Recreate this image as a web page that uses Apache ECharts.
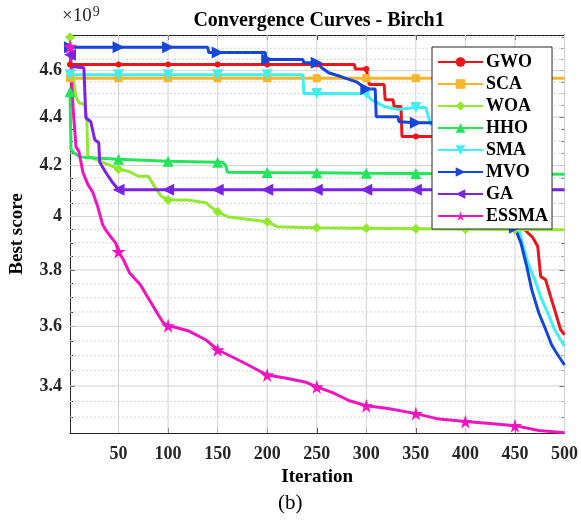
<!DOCTYPE html>
<html><head><meta charset="utf-8">
<script src="https://cdn.jsdelivr.net/npm/echarts@6/dist/echarts.min.js"></script>
<style>html,body{margin:0;padding:0;background:#fff}#c{width:581px;height:521px}</style>
</head><body><div id="c"></div>
<script>
// ---- data (values in units of 1e9) ----
const seriesNames = ['GWO','SCA','WOA','HHO','SMA','MVO','GA','ESSMA'];
const xTicks = [50,100,150,200,250,300,350,400,450,500];
const yTicks = [3.4,3.6,3.8,4.0,4.2,4.4,4.6];
const yMinorTicks = [3.3,3.35,3.45,3.5,3.55,3.65,3.7,3.75,3.85,3.9,3.95,4.05,4.1,4.15,4.25,4.3,4.35,4.45,4.5,4.55,4.65,4.7,4.75];
const xLimits = [1, 500];
const yLimits = [3.25, 4.76];
const markerIters = [1,50,100,150,200,250,300,350,400,450];

const gwoData = [[1,4.627],[50,4.627],[100,4.627],[150,4.627],[200,4.627],[250,4.627],[288,4.627],[289,4.607],[300,4.607],[302,4.607],[303,4.539],[318,4.539],[319,4.474],[327,4.474],[328,4.445],[335,4.445],[336,4.319],[350,4.319],[400,4.319],[425,4.319],[440,4.15],[450,4.04],[460,3.949],[468,3.92],[473,3.886],[476,3.776],[481,3.764],[486,3.704],[491,3.647],[496,3.589],[500,3.571]];
const scaData = [[1,4.567],[50,4.567],[100,4.567],[150,4.567],[200,4.567],[250,4.567],[300,4.567],[350,4.567],[400,4.567],[450,4.567],[500,4.567]];
const woaData = [[1,4.75],[2,4.636],[7,4.486],[10,4.461],[16,4.452],[18,4.388],[19,4.237],[27,4.225],[34,4.213],[44,4.197],[50,4.185],[60,4.177],[70,4.157],[80,4.157],[86,4.118],[93,4.079],[100,4.064],[119,4.064],[138,4.053],[143,4.037],[150,4.018],[160,3.999],[200,3.980],[210,3.961],[250,3.957],[300,3.955],[350,3.953],[400,3.951],[450,3.950],[500,3.949]];
const hhoData = [[1,4.508],[2,4.264],[5,4.252],[10,4.237],[16,4.233],[50,4.225],[100,4.217],[150,4.213],[155,4.213],[158,4.201],[160,4.173],[200,4.172],[250,4.171],[300,4.169],[350,4.168],[400,4.167],[450,4.166],[500,4.165]];
const smaData = [[1,4.582],[50,4.582],[100,4.582],[150,4.582],[200,4.582],[236,4.582],[237,4.500],[250,4.500],[300,4.500],[305,4.474],[318,4.445],[332,4.432],[350,4.440],[360,4.440],[365,4.368],[400,4.368],[420,4.368],[435,4.25],[445,4.08],[450,4.0],[454,3.949],[463,3.826],[470,3.764],[476,3.703],[483,3.647],[490,3.589],[496,3.554],[500,3.532]];
const mvoData = [[1,4.704],[50,4.704],[100,4.704],[140,4.704],[141,4.681],[150,4.681],[198,4.681],[199,4.649],[200,4.649],[236,4.649],[237,4.635],[250,4.635],[255,4.613],[262,4.591],[275,4.573],[290,4.551],[300,4.520],[309,4.520],[310,4.401],[332,4.401],[333,4.380],[350,4.376],[400,4.376],[420,4.376],[435,4.2],[445,4.03],[450,3.957],[456,3.900],[462,3.811],[467,3.728],[474,3.647],[481,3.589],[487,3.537],[491,3.514],[500,3.469]];
const gaData = [[1,4.671],[2,4.618],[15,4.613],[17,4.397],[22,4.380],[26,4.305],[30,4.293],[31,4.213],[37,4.173],[44,4.132],[50,4.104],[100,4.104],[150,4.104],[200,4.104],[250,4.104],[300,4.104],[350,4.104],[400,4.104],[450,4.104],[500,4.104]];
const essmaData = [[1,4.708],[2,4.618],[4,4.444],[7,4.277],[10,4.257],[14,4.173],[19,4.125],[24,4.094],[29,4.037],[34,3.968],[37,3.949],[42,3.923],[47,3.900],[50,3.867],[55,3.837],[61,3.790],[72,3.746],[81,3.693],[90,3.640],[95,3.613],[100,3.602],[108,3.596],[120,3.585],[138,3.554],[150,3.520],[175,3.479],[200,3.436],[218,3.426],[238,3.413],[250,3.397],[266,3.378],[283,3.352],[300,3.336],[322,3.327],[350,3.311],[371,3.295],[400,3.286],[425,3.280],[450,3.273],[474,3.258],[500,3.251]];

const allData = [gwoData, scaData, woaData, hhoData, smaData, mvoData, gaData, essmaData];
const colors = ['#E8161B','#F7B52C','#93E830','#22E65A','#40F0F0','#1446DC','#7B22E6','#F014C0'];
const STAR = 'path://M50,0 L61,35 L98,35 L68,57 L79,91 L50,70 L21,91 L32,57 L2,35 L39,35 Z';
const symbols = ['circle','rect','diamond','triangle','triangle','triangle','triangle',STAR];
const symRot = [0,0,0,0,180,-90,90,0];
const symSize = [6,8,10,11,11,12,12,14];

const L = v => Math.log10(v);
const FONT = "'Liberation Serif','Times New Roman',serif";
const yMin = L(yLimits[0]), yMax = L(yLimits[1]);
const fmtY = v => String(parseFloat(Math.pow(10, v).toFixed(2)));

// grid lines: [kind, value]; kind 0 = y minor, 1 = y major, 2 = x major
const gridLineData = [].concat(
  yMinorTicks.map(v => [0, L(v)]),
  yTicks.map(v => [1, L(v)]),
  xTicks.map(v => [2, v])
);
const gridSeries = {
  type: 'custom', name: '_grid', coordinateSystem: 'cartesian2d',
  xAxisIndex: 0, yAxisIndex: 0, z: 1, silent: true, animation: false, clip: false,
  encode: { x: -1, y: -1 },
  data: gridLineData,
  renderItem: function (params, api) {
    const kind = api.value(0), val = api.value(1);
    const cs = params.coordSys;
    if (kind === 2) {
      const px = api.coord([val, yMin])[0];
      return { type: 'line', shape: { x1: px, y1: cs.y, x2: px, y2: cs.y + cs.height },
        style: { stroke: '#D2D2D2', lineWidth: 1 } };
    }
    const py = api.coord([xLimits[0], val])[1];
    return { type: 'line', shape: { x1: cs.x, y1: py, x2: cs.x + cs.width, y2: py },
      style: kind === 1 ? { stroke: '#D2D2D2', lineWidth: 1 }
                        : { stroke: '#D6D6D6', lineWidth: 1, lineDash: [2, 2] } };
  }
};

const series = [gridSeries].concat(seriesNames.map((name, i) => ({
  name, type: 'line', xAxisIndex: 0, yAxisIndex: 0, z: 2,
  data: allData[i].map(([it, v]) => {
    const o = { value: [it, L(v)] };
    if (!markerIters.includes(it)) o.symbol = 'none';
    return o;
  }),
  symbol: symbols[i], symbolSize: symSize[i], symbolRotate: symRot[i],
  showAllSymbol: true, animation: false,
  lineStyle: { color: colors[i], width: 3 },
  itemStyle: { color: colors[i], borderWidth: 0 },
  emphasis: { disabled: true }
})));

const axisLineStyle = { show: true, lineStyle: { color: '#262626', width: 1 } };
const yBase = { type: 'value', min: yMin, max: yMax, gridIndex: 0 };

const chart = echarts.init(document.getElementById('c'), null, { renderer: 'canvas' });
chart.setOption({
  animation: false,
  backgroundColor: '#fff',
  title: {
    text: 'Convergence Curves - Birch1', left: 314, top: 6, textAlign: 'center',
    textStyle: { fontFamily: FONT, fontWeight: 'bold', fontSize: 20, color: '#000' }
  },
  grid: { left: 61, right: 14, top: 35, bottom: 88, containLabel: false },
  legend: {
    orient: 'vertical', left: 432, top: 47,
    backgroundColor: '#fff', borderColor: '#262626', borderWidth: 1,
    padding: [6, 4, 4, 5], itemGap: 4, itemWidth: 45, itemHeight: 12,
    textStyle: { fontFamily: FONT, fontWeight: 'bold', fontSize: 18, color: '#000', padding: [0,0,0,-2] },
    data: seriesNames
  },
  xAxis: [
    { type: 'value', min: xLimits[0], max: xLimits[1], position: 'bottom',
      name: 'Iteration', nameLocation: 'middle', nameGap: 34,
      nameTextStyle: { fontFamily: FONT, fontWeight: 'bold', fontSize: 19, color: '#000' },
      axisLine: axisLineStyle,
      axisTick: { show: true, inside: true, length: 5, customValues: xTicks, lineStyle: { color: '#262626' } },
      axisLabel: { customValues: xTicks, margin: 12, fontFamily: FONT, fontWeight: 'bold', fontSize: 18, color: '#262626' },
      splitLine: { show: false }
    },
    { type: 'value', min: xLimits[0], max: xLimits[1], position: 'top',
      axisLine: axisLineStyle,
      axisTick: { show: true, inside: true, length: 5, customValues: xTicks, lineStyle: { color: '#262626' } },
      axisLabel: { show: false }, splitLine: { show: false }
    }
  ],
  yAxis: [
    Object.assign({}, yBase, { position: 'left',
      name: 'Best score', nameLocation: 'middle', nameGap: 43,
      nameTextStyle: { fontFamily: FONT, fontWeight: 'bold', fontSize: 19, color: '#000' },
      axisLine: axisLineStyle,
      axisTick: { show: true, inside: true, length: 5, customValues: yTicks.map(L), lineStyle: { color: '#262626' } },
      axisLabel: { customValues: yTicks.map(L), formatter: fmtY, margin: 8, fontFamily: FONT, fontWeight: 'bold', fontSize: 18, color: '#262626' },
      splitLine: { show: false }
    }),
    Object.assign({}, yBase, { position: 'left',
      axisLine: { show: false },
      axisTick: { show: true, inside: true, length: 3, customValues: yMinorTicks.map(L), lineStyle: { color: '#262626' } },
      axisLabel: { show: false }, splitLine: { show: false }
    }),
    Object.assign({}, yBase, { position: 'right',
      axisLine: axisLineStyle,
      axisTick: { show: true, inside: true, length: 5, customValues: yTicks.map(L), lineStyle: { color: '#262626' } },
      axisLabel: { show: false }, splitLine: { show: false }
    }),
    Object.assign({}, yBase, { position: 'right',
      axisLine: { show: false },
      axisTick: { show: true, inside: true, length: 3, customValues: yMinorTicks.map(L), lineStyle: { color: '#262626' } },
      axisLabel: { show: false }, splitLine: { show: false }
    })
  ],
  graphic: [
    { type: 'text', left: 62, top: 5, z: 10,
      style: { text: '×10{s|9}', fontFamily: FONT, fontSize: 19, fill: '#262626',
        rich: { s: { fontFamily: FONT, fontSize: 14, verticalAlign: 'top', padding: [0,0,9,1] } } } },
    { type: 'text', left: 278, top: 493, z: 10,
      style: { text: '(b)', fontFamily: FONT, fontSize: 21, fill: '#000' } }
  ],
  series
});
</script></body></html>
